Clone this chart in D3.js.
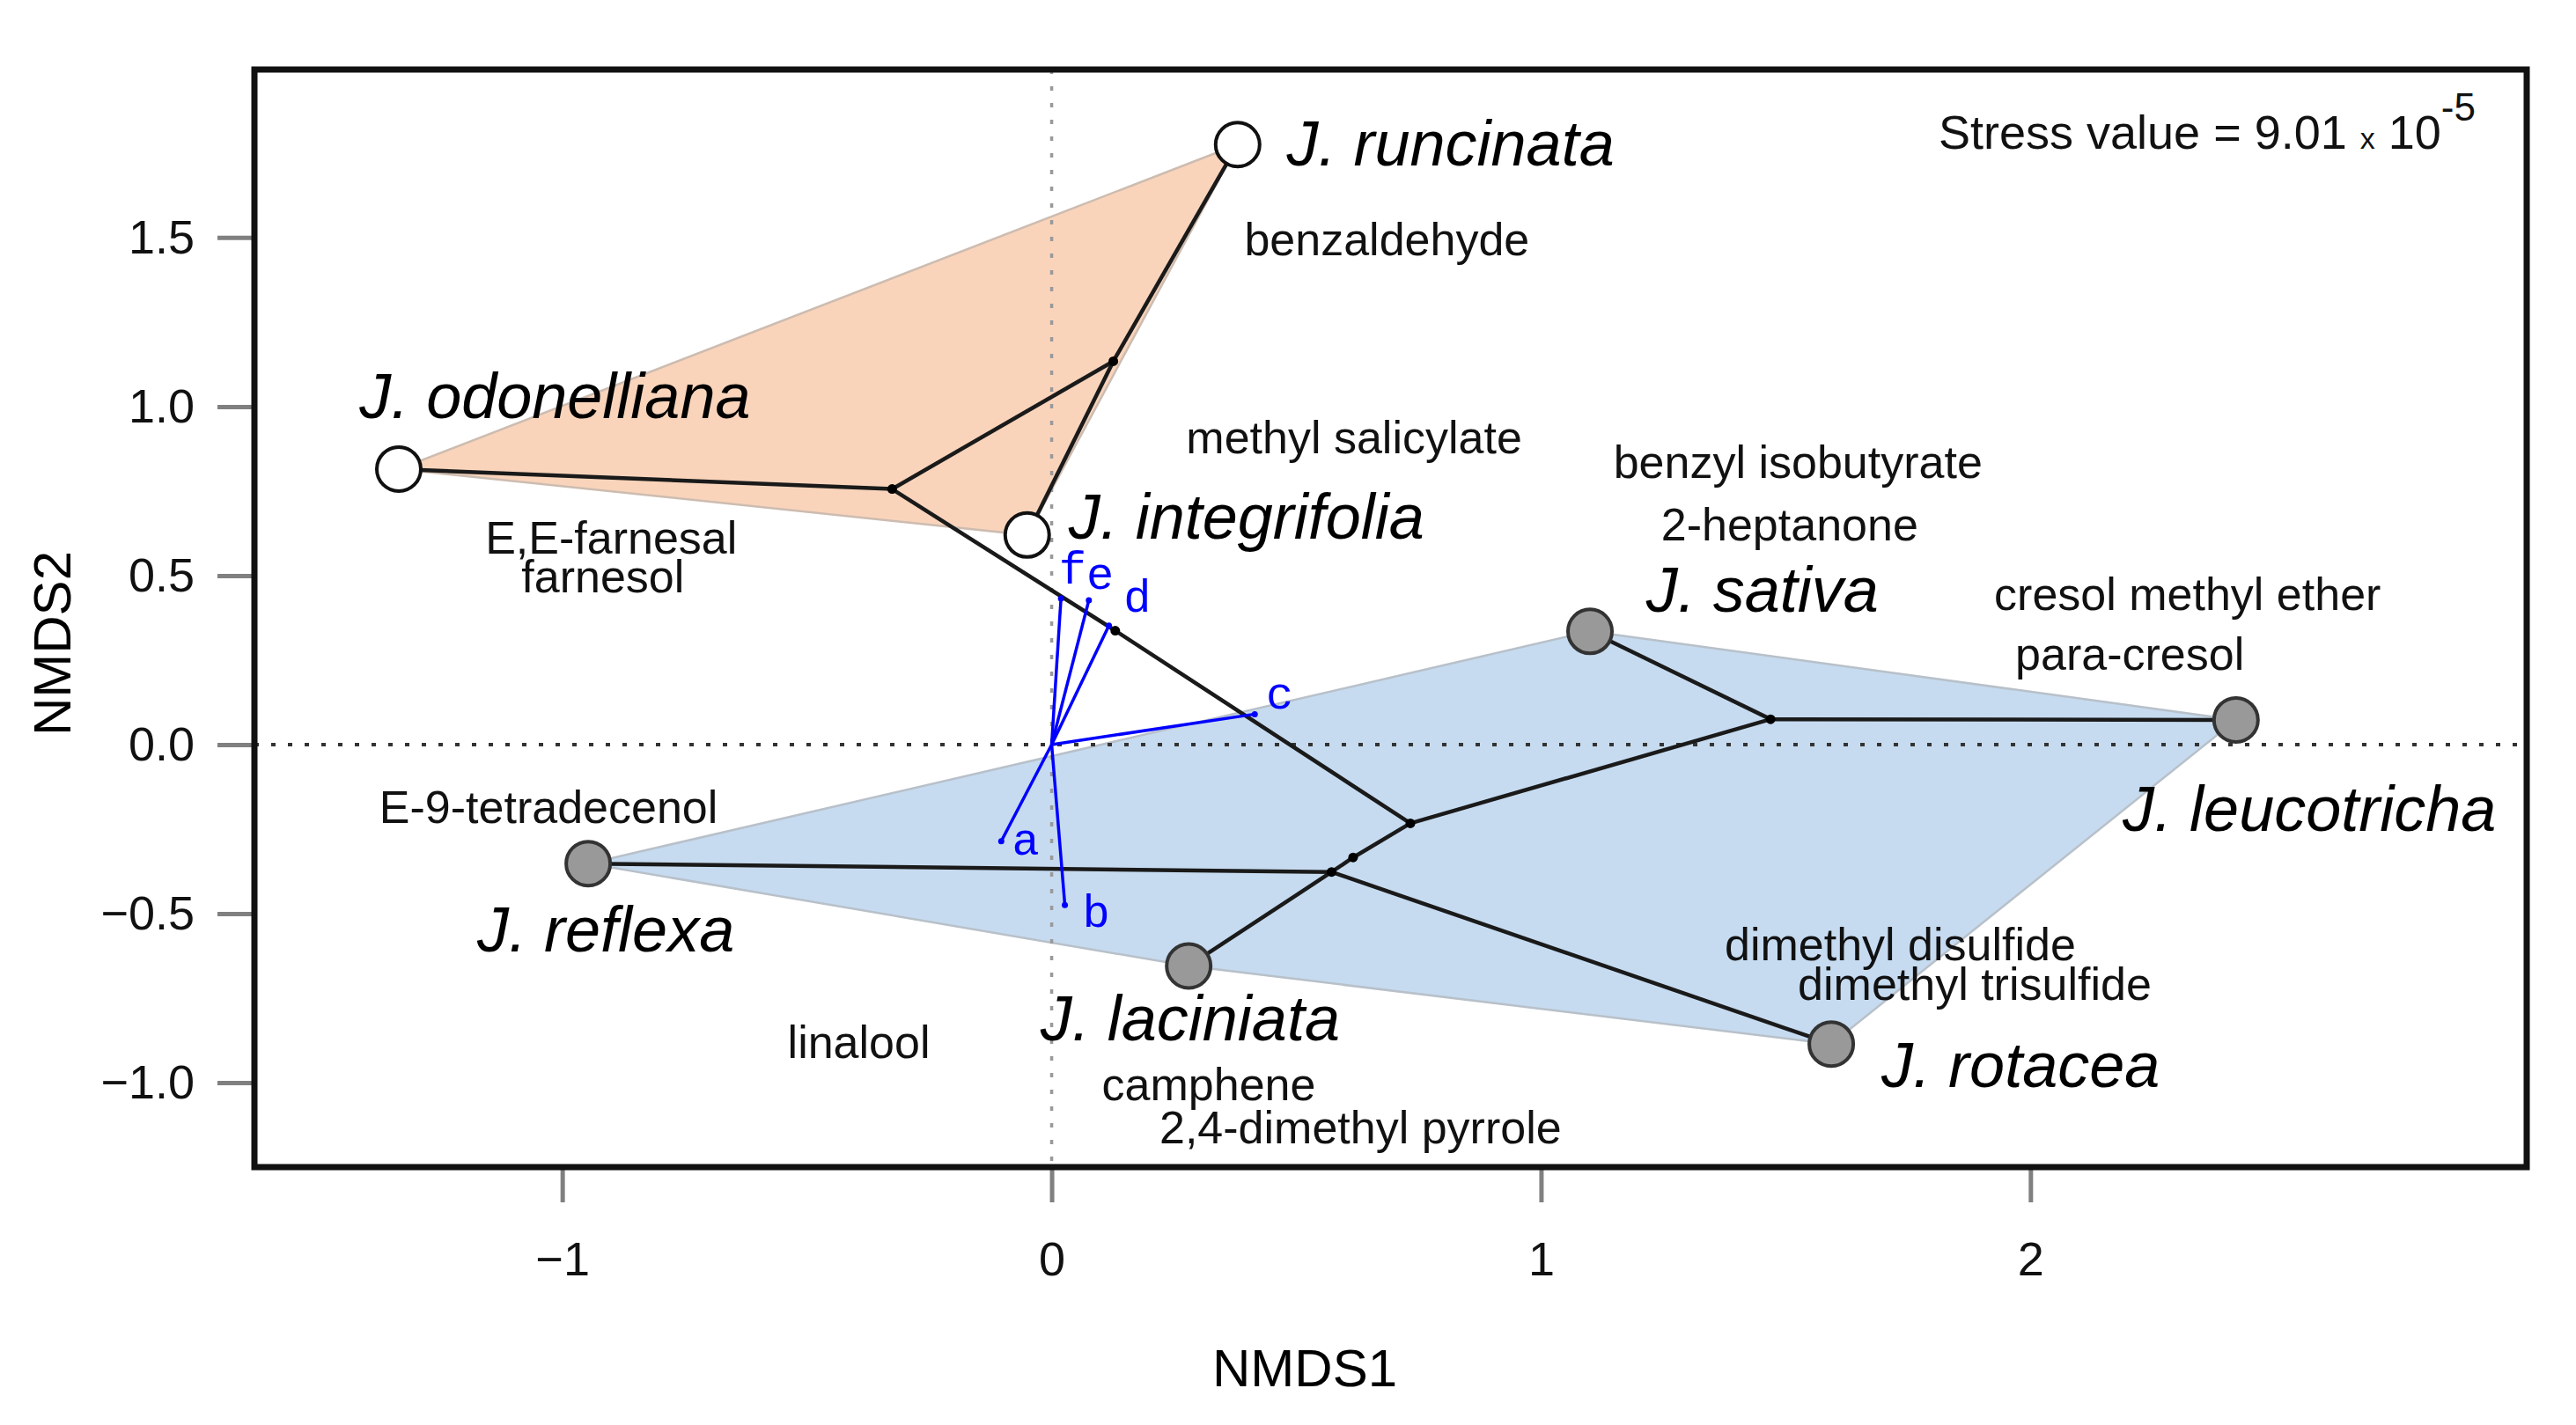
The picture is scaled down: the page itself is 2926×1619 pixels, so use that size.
<!DOCTYPE html>
<html>
<head>
<meta charset="utf-8">
<script src="https://cdn.jsdelivr.net/npm/d3@7"></script>
<style>
  body { margin: 0; background: #fff; }
  text { font-family: "Liberation Sans", Arial, sans-serif; }
</style>
</head>
<body>
<svg id="chart" width="2926" height="1619"></svg>
<script>
// species scores (NMDS1, NMDS2)
const species = ["J. runcinata", "J. odonelliana", "J. integrifolia", "J. sativa",
  "J. leucotricha", "J. reflexa", "J. laciniata", "J. rotacea"];
const speciesX = [0.38, -1.334, -0.05, 1.10, 2.42, -0.947, 0.28, 1.593];
const speciesY = [1.775, 0.815, 0.62, 0.335, 0.073, -0.352, -0.655, -0.886];
const speciesGroup = [1, 1, 1, 2, 2, 2, 2, 2];
const speciesLabelX = [0.815, -1.015, 0.398, 1.452, 2.57, -0.911, 0.283, 1.98];
const speciesLabelY = [1.779, 1.031, 0.674, 0.459, -0.19, -0.547, -0.81, -0.947];

// hulls (in drawing order)
const hullGroup1 = ["J. odonelliana", "J. runcinata", "J. integrifolia"];
const hullGroup2 = ["J. reflexa", "J. sativa", "J. leucotricha", "J. rotacea", "J. laciniata"];

// cluster tree internal nodes
const nodes = ["n1", "n2", "n3", "n4", "n5", "n6", "n7"];
const nodeX = [0.126, -0.326, 0.130, 0.733, 0.616, 0.572, 1.469];
const nodeY = [1.134, 0.756, 0.337, -0.233, -0.334, -0.377, 0.075];
const treeFrom = ["J. runcinata", "n1", "n1", "J. odonelliana", "n2", "n3", "n4", "n7", "n7", "n4", "n5", "n6", "n6", "n6"];
const treeTo = ["n1", "J. integrifolia", "n2", "n2", "n3", "n4", "n7", "J. sativa", "J. leucotricha", "n5", "n6", "J. reflexa", "J. laciniata", "J. rotacea"];

// fitted vectors
const vectors = ["a", "b", "c", "d", "e", "f"];
const vectorX = [-0.103, 0.027, 0.415, 0.117, 0.076, 0.019];
const vectorY = [-0.286, -0.475, 0.090, 0.352, 0.427, 0.432];
const vectorLabelX = [-0.053, 0.091, 0.466, 0.175, 0.099, 0.043];
const vectorLabelY = [-0.291, -0.505, 0.143, 0.427, 0.497, 0.512];

// compound labels
const compounds = ["benzaldehyde", "methyl salicylate", "benzyl isobutyrate", "2-heptanone",
  "cresol methyl ether", "para-cresol", "E,E-farnesal", "farnesol", "E-9-tetradecenol",
  "linalool", "camphene", "2,4-dimethyl pyrrole", "dimethyl disulfide", "dimethyl trisulfide"];
const compoundX = [0.685, 0.618, 1.525, 1.508, 2.321, 2.203, -0.900, -0.917, -1.028,
  -0.394, 0.321, 0.631, 1.734, 1.886];
const compoundY = [1.495, 0.909, 0.835, 0.650, 0.445, 0.269, 0.611, 0.498, -0.185,
  -0.879, -1.006, -1.133, -0.591, -0.708];

const xTicks = [-1, 0, 1, 2];
const yTicks = [-1.0, -0.5, 0.0, 0.5, 1.0, 1.5];

const box = {left: 289, top: 79, right: 2870, bottom: 1326};

const svg = d3.select("#chart");

const x = d3.scaleLinear().domain([-1.629, 3.014]).range([box.left, box.right]);
const y = d3.scaleLinear().domain([-1.25, 1.997]).range([box.bottom, box.top]);

// lookup of every point in the tree
const pos = {};
species.forEach((s, i) => pos[s] = [speciesX[i], speciesY[i]]);
nodes.forEach((n, i) => pos[n] = [nodeX[i], nodeY[i]]);

const plot = svg.append("g");
plot.append("clipPath").attr("id", "clip")
  .append("rect")
  .attr("x", box.left).attr("y", box.top)
  .attr("width", box.right - box.left).attr("height", box.bottom - box.top);
const inner = plot.append("g").attr("clip-path", "url(#clip)");

// hulls
const line = d3.line().x(d => x(pos[d][0])).y(d => y(pos[d][1])).curve(d3.curveLinearClosed);
inner.append("path").datum(hullGroup1)
  .attr("d", line)
  .attr("fill", "#f9d4bb")
  .attr("stroke", "#cdbcb0")
  .attr("stroke-width", 2.5);
inner.append("path").datum(hullGroup2)
  .attr("d", line)
  .attr("fill", "#c6dbf0")
  .attr("stroke", "#b8c0c9")
  .attr("stroke-width", 2.5);

// zero lines
inner.append("line")
  .attr("x1", box.left).attr("x2", box.right)
  .attr("y1", y(0)).attr("y2", y(0))
  .attr("stroke", "#333").attr("stroke-width", 4)
  .attr("stroke-dasharray", "5,14");
inner.append("line")
  .attr("x1", x(0)).attr("x2", x(0))
  .attr("y1", box.top).attr("y2", box.bottom)
  .attr("stroke", "#999").attr("stroke-width", 3.5)
  .attr("stroke-dasharray", "5,14");

// tree
inner.selectAll(".edge").data(treeFrom.map((f, i) => [f, treeTo[i]]))
  .join("line")
  .attr("class", "edge")
  .attr("x1", d => x(pos[d[0]][0])).attr("y1", d => y(pos[d[0]][1]))
  .attr("x2", d => x(pos[d[1]][0])).attr("y2", d => y(pos[d[1]][1]))
  .attr("stroke", "#1a1a1a").attr("stroke-width", 4.5);

inner.selectAll(".node").data(nodes)
  .join("circle")
  .attr("class", "node")
  .attr("cx", d => x(pos[d][0])).attr("cy", d => y(pos[d][1]))
  .attr("r", 5.5).attr("fill", "#000");

// vectors
inner.selectAll(".vec").data(vectors)
  .join("line")
  .attr("class", "vec")
  .attr("x1", x(0)).attr("y1", y(0))
  .attr("x2", (d, i) => x(vectorX[i])).attr("y2", (d, i) => y(vectorY[i]))
  .attr("stroke", "#0000ff").attr("stroke-width", 3.5);
inner.selectAll(".vecend").data(vectors)
  .join("circle")
  .attr("class", "vecend")
  .attr("cx", (d, i) => x(vectorX[i])).attr("cy", (d, i) => y(vectorY[i]))
  .attr("r", 3.5).attr("fill", "#0000ff");
inner.selectAll(".veclab").data(vectors)
  .join("text")
  .attr("class", "veclab")
  .attr("x", (d, i) => x(vectorLabelX[i])).attr("y", (d, i) => y(vectorLabelY[i]))
  .attr("text-anchor", "middle")
  .attr("dominant-baseline", "central")
  .style("font-family", "'Liberation Mono', 'DejaVu Sans Mono', monospace")
  .style("font-size", "52px")
  .attr("fill", "#0000ff")
  .text(d => d);

// species points
inner.selectAll(".sp").data(species)
  .join("circle")
  .attr("class", "sp")
  .attr("cx", (d, i) => x(speciesX[i])).attr("cy", (d, i) => y(speciesY[i]))
  .attr("r", 25)
  .attr("fill", (d, i) => speciesGroup[i] === 1 ? "#fff" : "#999")
  .attr("stroke", (d, i) => speciesGroup[i] === 1 ? "#111" : "#333")
  .attr("stroke-width", 4);

// compound labels
inner.selectAll(".comp").data(compounds)
  .join("text")
  .attr("class", "comp")
  .attr("x", (d, i) => x(compoundX[i])).attr("y", (d, i) => y(compoundY[i]))
  .attr("text-anchor", "middle")
  .attr("dominant-baseline", "central")
  .style("font-size", "52px")
  .attr("fill", "#111")
  .text(d => d);

// species labels
inner.selectAll(".splab").data(species)
  .join("text")
  .attr("class", "splab")
  .attr("x", (d, i) => x(speciesLabelX[i])).attr("y", (d, i) => y(speciesLabelY[i]))
  .attr("text-anchor", "middle")
  .attr("dominant-baseline", "central")
  .style("font-size", "72px")
  .style("font-style", "italic")
  .attr("fill", "#000")
  .text(d => d);

// stress value
const stress = plot.append("text")
  .attr("x", 2202).attr("y", 169)
  .style("font-size", "54px")
  .attr("fill", "#111");
stress.append("tspan").text("Stress value = 9.01 ");
stress.append("tspan").style("font-size", "34px").text("x");
stress.append("tspan").text(" 10");
stress.append("tspan").attr("dy", -32).style("font-size", "44px").text("-5");

// axes
const yAxis = d3.axisLeft(y).tickValues(yTicks).tickSize(40).tickPadding(26)
  .tickFormat(d3.format(".1f"));
const gy = svg.append("g").attr("transform", `translate(${box.left - 2},0)`).call(yAxis);
const xAxis = d3.axisBottom(x).tickValues(xTicks).tickSize(37).tickPadding(45)
  .tickFormat(d3.format("d"));
const gx = svg.append("g").attr("transform", `translate(0,${box.bottom + 3})`).call(xAxis);
[gx, gy].forEach(g => {
  g.select(".domain").remove();
  g.selectAll(".tick line").attr("stroke", "#808080").attr("stroke-width", 5);
  g.selectAll(".tick text").style("font-size", "54px")
    .style("font-family", "'Liberation Sans', Arial, sans-serif").attr("fill", "#111");
});

// box
svg.append("rect")
  .attr("x", box.left).attr("y", box.top)
  .attr("width", box.right - box.left).attr("height", box.bottom - box.top)
  .attr("fill", "none").attr("stroke", "#111").attr("stroke-width", 7);

// axis titles
svg.append("text")
  .attr("x", 1482).attr("y", 1575)
  .attr("text-anchor", "middle")
  .style("font-size", "60px")
  .text("NMDS1");
svg.append("text")
  .attr("transform", "translate(80,731) rotate(-90)")
  .attr("text-anchor", "middle")
  .style("font-size", "60px")
  .text("NMDS2");
</script>
</body>
</html>
